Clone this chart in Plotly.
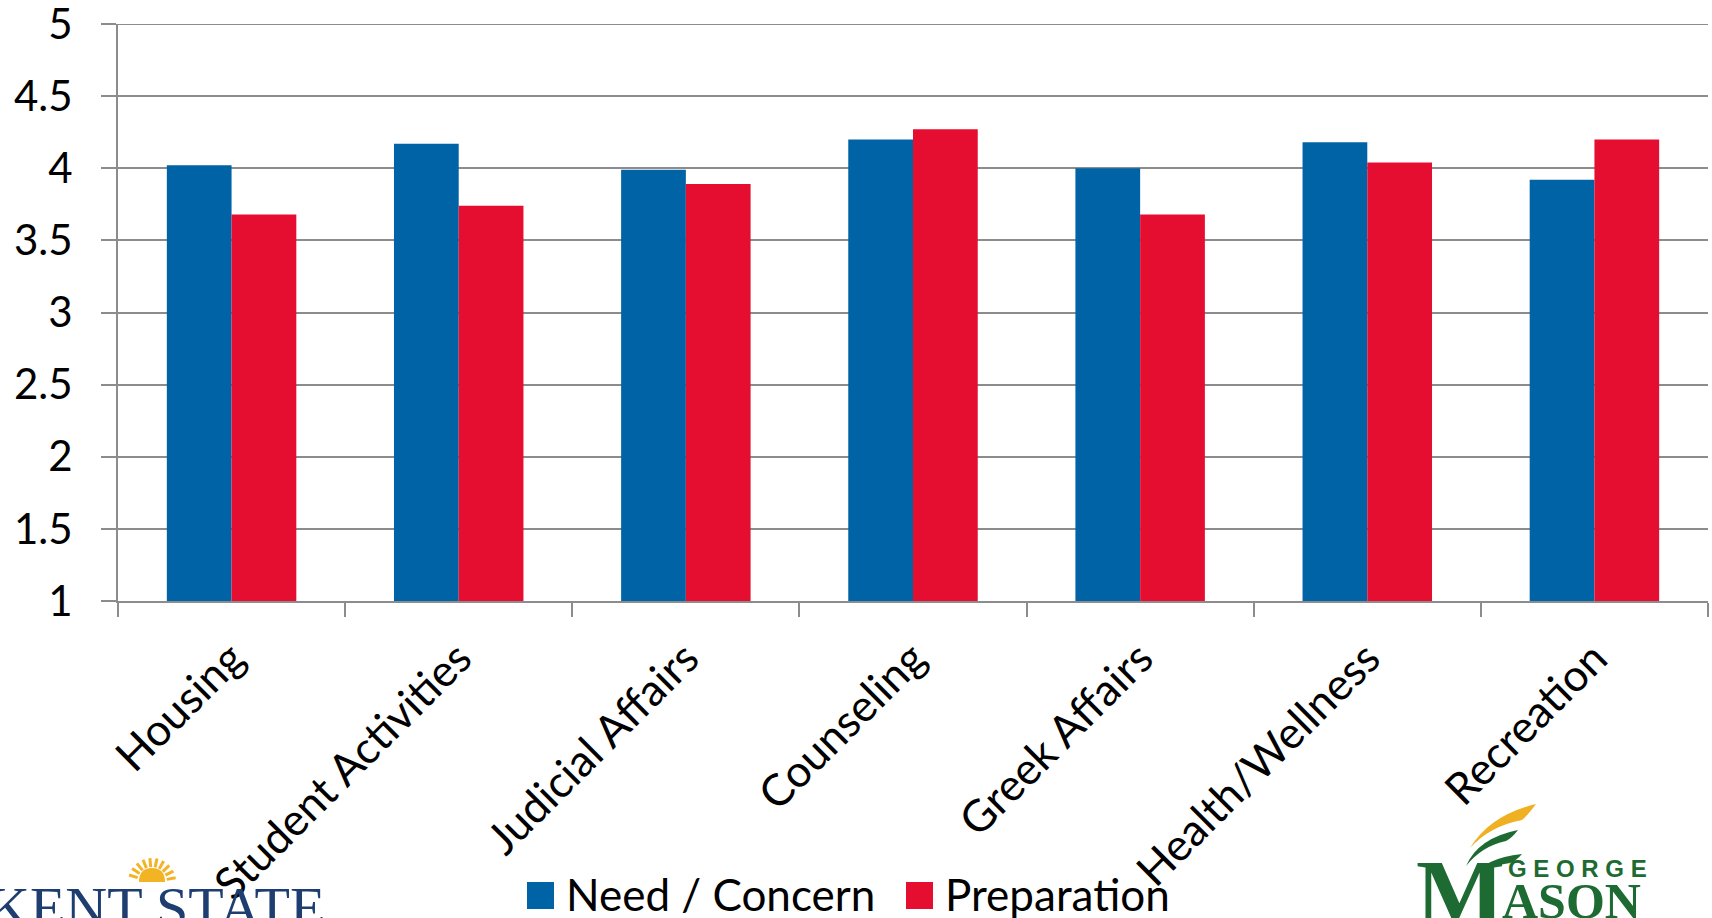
import math
import plotly.graph_objects as go

# Survey ratings by service area
categories = ["Housing", "Student Activities", "Judicial Affairs", "Counseling",
              "Greek Affairs", "Health/Wellness", "Recreation"]
need_concern = [4.02, 4.17, 3.99, 4.20, 4.00, 4.18, 3.92]
preparation = [3.68, 3.74, 3.89, 4.27, 3.68, 4.04, 4.20]
series_names = ["Need / Concern", "Preparation"]
y_ticks = [1, 1.5, 2, 2.5, 3, 3.5, 4, 4.5, 5]

BLUE = "#0063A6"
RED = "#E60E30"
GRID = "#8C8C8C"
FONT = "Lato"

W, H = 1712, 918
ML, MR, MT, MB = 118, 4, 24, 317
PW, PH = W - ML - MR, H - MT - MB


def fx(x):
    """pixel x -> paper x"""
    return (x - ML) / PW


def fy(y):
    """pixel y -> paper y"""
    return (H - MB - y) / PH


fig = go.Figure()
fig.add_trace(go.Bar(x=categories, y=need_concern, name=series_names[0],
                     marker=dict(color=BLUE, line=dict(width=0)), base=0))
fig.add_trace(go.Bar(x=categories, y=preparation, name=series_names[1],
                     marker=dict(color=RED, line=dict(width=0)), base=0))

shapes = []
annotations = []

# top gridline at the axis maximum
shapes.append(dict(type="line", xref="paper", yref="y", x0=0, x1=1,
                   y0=y_ticks[-1], y1=y_ticks[-1], layer="below",
                   line=dict(color=GRID, width=2)))

# Legend drawn by hand so the swatches are large
legend_items = [(series_names[0], BLUE, 527), (series_names[1], RED, 906)]
for name, color, x0 in legend_items:
    shapes.append(dict(type="rect", xref="paper", yref="paper",
                       x0=fx(x0), x1=fx(x0 + 27), y0=fy(909), y1=fy(882),
                       fillcolor=color, line=dict(width=0)))
    annotations.append(dict(text=name, xref="paper", yref="paper",
                            x=fx(x0 + 37), y=fy(894), xanchor="left", yanchor="middle",
                            showarrow=False, font=dict(family=FONT, size=44, color="black")))

# Kent State wordmark (bottom left)
annotations.append(dict(text="KENT STATE", xref="paper", yref="paper",
                        x=fx(-14), y=fy(873), xanchor="left", yanchor="top",
                        showarrow=False,
                        font=dict(family="Liberation Serif", size=58, color="#1E3D70")))
sun_cx, sun_cy = 152, 882
shapes.append(dict(type="path", xref="paper", yref="paper",
                   path=(f"M {fx(sun_cx-13)},{fy(sun_cy)} "
                         f"Q {fx(sun_cx-13)},{fy(sun_cy-14)} {fx(sun_cx)},{fy(sun_cy-14)} "
                         f"Q {fx(sun_cx+13)},{fy(sun_cy-14)} {fx(sun_cx+13)},{fy(sun_cy)} Z"),
                   fillcolor="#F2B424", line=dict(width=0)))
for ang in range(10, 180, 17):
    a = math.radians(ang)
    shapes.append(dict(type="line", xref="paper", yref="paper",
                       x0=fx(sun_cx + 15 * math.cos(a)), y0=fy(sun_cy - 15 * math.sin(a)),
                       x1=fx(sun_cx + 24 * math.cos(a)), y1=fy(sun_cy - 24 * math.sin(a)),
                       line=dict(color="#F2B424", width=3)))

# George Mason wordmark (bottom right)
GREEN = "#1D6B32"
annotations.append(dict(text="<b>G E O R G E</b>", xref="paper", yref="paper",
                        x=fx(1506), y=fy(868), xanchor="left", yanchor="middle",
                        showarrow=False,
                        font=dict(family="Liberation Sans", size=24, color=GREEN)))
annotations.append(dict(text="<b>M</b>", xref="paper", yref="paper",
                        x=fx(1414), y=fy(838), xanchor="left", yanchor="top",
                        showarrow=False,
                        font=dict(family="Liberation Serif", size=94, color=GREEN)))
annotations.append(dict(text="<b>ASON</b>", xref="paper", yref="paper",
                        x=fx(1500), y=fy(871), xanchor="left", yanchor="top",
                        showarrow=False,
                        font=dict(family="Liberation Serif", size=50, color=GREEN)))
# swooshes above the M
shapes.append(dict(type="path", xref="paper", yref="paper",
                   path=(f"M {fx(1470)},{fy(848)} Q {fx(1490)},{fy(815)} {fx(1536)},{fy(804)} "
                         f"Q {fx(1528)},{fy(815)} {fx(1522)},{fy(820)} "
                         f"Q {fx(1490)},{fy(826)} {fx(1470)},{fy(848)} Z"),
                   fillcolor="#EFB022", line=dict(width=0)))
shapes.append(dict(type="path", xref="paper", yref="paper",
                   path=(f"M {fx(1466)},{fy(866)} Q {fx(1478)},{fy(838)} {fx(1518)},{fy(830)} "
                         f"Q {fx(1512)},{fy(838)} {fx(1506)},{fy(841)} "
                         f"Q {fx(1482)},{fy(846)} {fx(1466)},{fy(866)} Z"),
                   fillcolor=GREEN, line=dict(width=0)))
shapes.append(dict(type="path", xref="paper", yref="paper",
                   path=(f"M {fx(1472)},{fy(878)} Q {fx(1484)},{fy(858)} {fx(1522)},{fy(854)} "
                         f"Q {fx(1516)},{fy(861)} {fx(1510)},{fy(863)} "
                         f"Q {fx(1486)},{fy(866)} {fx(1472)},{fy(878)} Z"),
                   fillcolor=GREEN, line=dict(width=0)))

fig.update_layout(
    width=W, height=H,
    margin=dict(l=ML, r=MR, t=MT, b=MB, pad=0, autoexpand=False),
    paper_bgcolor="white", plot_bgcolor="white",
    barmode="group", bargap=0.43, bargroupgap=0,
    showlegend=False,
    font=dict(family=FONT, color="black"),
    shapes=shapes, annotations=annotations,
)
fig.update_xaxes(
    type="category", tickson="boundaries", ticks="outside", ticklen=14,
    tickwidth=2, tickcolor=GRID, showline=True, linecolor=GRID, linewidth=2,
    showgrid=False, tickangle=-45, tickfont=dict(family=FONT, size=44),
    ticklabelstandoff=12, ticklabeloverflow="allow", automargin=False,
)
fig.update_yaxes(
    range=[1, 5], tickvals=y_ticks, ticks="outside", ticklen=15, tickwidth=2,
    tickcolor=GRID, showline=True, linecolor=GRID, linewidth=2,
    showgrid=True, gridcolor=GRID, gridwidth=2, zeroline=False,
    tickfont=dict(family=FONT, size=42), ticklabelstandoff=20,
    ticklabeloverflow="allow", automargin=False,
)

fig.write_html("out.html")
